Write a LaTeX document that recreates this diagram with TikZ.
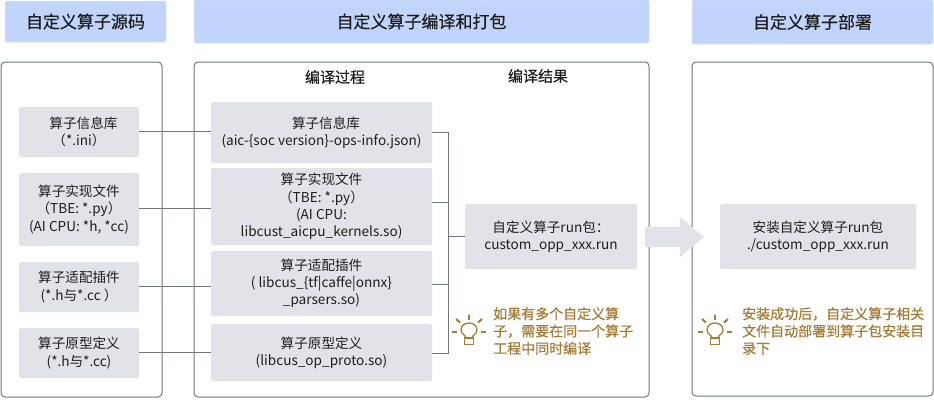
\documentclass[tikz,border=0pt]{standalone}
\usepackage{fontspec}
\setmainfont{Noto Sans CJK SC}
\newfontfamily\medcjk{Noto Sans CJK SC}[FakeBold=0.5]
\definecolor{hdr}{HTML}{C0D4FC}
\definecolor{gbox}{HTML}{E1E3E8}
\definecolor{ln}{HTML}{6F7680}
\definecolor{gold}{HTML}{A57C35}
\definecolor{ink}{HTML}{1E1E1E}
\tikzset{
  hdrbox/.style={fill=hdr,draw=hdr!60!white,line width=.5pt,rounded corners=2pt,font=\fontsize{17}{20}\selectfont\medcjk,text=ink},
  panel/.style={draw=ln,line width=1pt,rounded corners=4pt},
  gb/.style={fill=gbox,rounded corners=1.5pt,font=\fontsize{13.6}{17.2}\selectfont,text=ink,align=center,inner sep=0pt},
  subt/.style={font=\fontsize{15}{18}\selectfont\medcjk,text=ink,inner sep=0pt},
  conn/.style={draw=ln,line width=.9pt},
  note/.style={font=\fontsize{14}{17.3}\selectfont\medcjk,text=gold,align=left,anchor=north west,inner sep=0pt},
  bulbs/.style={draw=gold,line width=1.3pt},
  rays/.style={draw=gold,line width=2pt},
}
\newcommand{\bx}[7][]{\node[#1] (#2) at ({(#3+#5)/2},{(#4+#6)/2}) [minimum width={(#5-#3)*1pt},minimum height={(#6-#4)*1pt}] {#7};}
\newcommand{\bulb}[3]{%
 \begin{scope}[shift={(#2,#3)}]
  \coordinate (#1) at (0,0);
  \draw[bulbs] (-3,7) .. controls (-3,4) and (-8,3.5) .. (-8,-1) .. controls (-8,-5.5) and (-4,-8) .. (0,-8) .. controls (4,-8) and (8,-5.5) .. (8,-1) .. controls (8,3.5) and (3,4) .. (3,7);
  \draw[bulbs] (-4.5,7) -- (-4.5,13.5) -- (4.5,13.5) -- (4.5,7) -- cycle;
  \draw[rays] (0,-11.5) -- (0,-16);
  \draw[rays] (-9,-8.5) -- (-13,-12);
  \draw[rays] (9,-8.5) -- (13,-12);
  \draw[rays] (-17,0.5) -- (-12,0.5);
  \draw[rays] (12,0.5) -- (17,0.5);
 \end{scope}}
\begin{document}
\begin{tikzpicture}[x=1pt,y=-1pt]
\useasboundingbox (0,0) rectangle (934,400);
\fill[white] (0,0) rectangle (934,400);
% headers
\bx[hdrbox]{h1}{5}{1}{166}{42}{自定义算子源码}
\bx[hdrbox]{h2}{194}{0}{649}{43}{自定义算子编译和打包}
\bx[hdrbox]{h3}{692}{0}{933}{44}{自定义算子部署}
% panels
\bx[panel]{p1}{1}{62}{162}{397}{}
\bx[panel]{p2}{194}{62}{649}{397}{}
\bx[panel]{p3}{692}{62}{933}{396}{}
\node[subt] (t1) at (335,77) {编译过程};
\node[subt] (t2) at (538,76) {编译结果};
% left boxes
\bx[gb]{a1}{19}{107}{139}{157}{\hspace*{9pt}算子信息库\\（*.ini）}
\bx[gb]{a2}{19}{173}{139}{246}{算子实现文件\\（TBE: *.py）\\(AI CPU: *h, *cc)}
\bx[gb]{a3}{19}{262}{139}{312}{算子适配插件\\(*.h与*.cc ）}
\bx[gb]{a4}{19}{328}{139}{378}{算子原型定义\\(*.h与*.cc)}
% middle boxes
\bx[gb]{b1}{211}{102}{432}{163}{\hspace*{9pt}算子信息库\\(aic-\{soc version\}-ops-info.json)}
\bx[gb]{b2}{211}{168}{432}{245}{算子实现文件\\（TBE: *.py）\\(AI CPU:\\libcust\_aicpu\_kernels.so)}
\bx[gb]{b3}{211}{251}{432}{316}{算子适配插件\\( libcus\_\{tf|caffe|onnx\}\\\_parsers.so)}
\bx[gb]{b4}{211}{324}{432}{381}{算子原型定义\\(libcus\_op\_proto.so)}
% result boxes
\bx[gb]{r}{465}{204}{637}{269}{自定义算子run包：\\custom\_opp\_xxx.run}
\bx[gb]{d}{720}{204}{916}{269}{安装自定义算子run包\\./custom\_opp\_xxx.run}
% connectors
\draw[conn] (a1.east |- 0,131) -- (b1.west |- 0,131);
\draw[conn] (a2.east |- 0,208) -- (b2.west |- 0,208);
\draw[conn] (a3.east |- 0,286) -- (b3.west |- 0,286);
\draw[conn] (a4.east |- 0,352) -- (b4.west |- 0,352);
\coordinate (br) at (448,132);
\draw[conn] (b1.east |- br) -- (br) -- (448,353) -- (b4.east |- 0,353);
\draw[conn] (b2.east |- 0,202) -- (448,202);
\draw[conn] (b3.east |- 0,284) -- (448,284);
\draw[conn] (448,236) -- (r.west |- 0,236);
% big arrow
\fill[gbox] (645,227) -- (680,227) -- (680,217) -- (704,237) -- (680,257) -- (680,247) -- (645,247) -- cycle;
% notes
\bulb{n1}{469}{331}
\bulb{n2}{715}{331}
\node[note] (nt1) at (493,307) {如果有多个自定义算\\子，需要在同一个算子\\工程中同时编译};
\node[note] (nt2) at (742,307) {安装成功后，自定义算子相关\\文件自动部署到算子包安装目\\录下};
\end{tikzpicture}
\end{document}
